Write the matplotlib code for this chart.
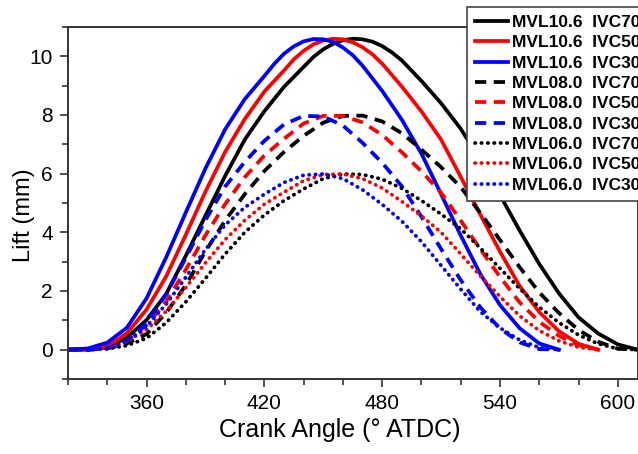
import matplotlib
matplotlib.use("Agg")
import matplotlib.pyplot as plt
from matplotlib.ticker import MultipleLocator

plt.rcParams['font.family'] = ['Liberation Sans', 'DejaVu Sans']

# crank angle grids (deg ATDC); finer steps around the peak of the full-lift curves
angle_ivc30 = list(range(320, 571, 10))
angle_ivc50 = list(range(320, 591, 10))
angle_ivc70 = list(range(320, 611, 10))
angle_106_ivc30 = ([320, 330, 340, 350, 360, 370, 380, 390, 400, 410, 420, 425, 430, 435, 440,
                    445, 450, 455, 460, 465, 470, 480, 490, 500, 510, 520, 530, 540, 550, 560, 570])
angle_106_ivc50 = ([320, 330, 340, 350, 360, 370, 380, 390, 400, 410, 420, 430, 435, 440, 445,
                    450, 455, 460, 465, 470, 475, 480, 490, 500, 510, 520, 530, 540, 550, 560,
                    570, 580, 590])
angle_106_ivc70 = ([320, 330, 340, 350, 360, 370, 380, 390, 400, 410, 420, 430, 440, 445, 450,
                    455, 460, 465, 470, 475, 480, 485, 490, 500, 510, 520, 530, 540, 550, 560,
                    570, 580, 590, 600, 610])

# lift (mm)
mvl106_ivc70 = [0, 0, 0.08, 0.41, 1.01, 1.90, 3.20, 4.57, 5.92, 7.16, 8.13, 8.96, 9.64, 9.98,
                10.24, 10.43, 10.55, 10.60, 10.58, 10.50, 10.35, 10.13, 9.86, 9.16, 8.40,
                7.53, 6.46, 5.27, 4.06, 2.92, 1.92, 1.10, 0.55, 0.18, 0]
mvl106_ivc50 = [0, 0.02, 0.11, 0.56, 1.37, 2.50, 3.92, 5.39, 6.74, 7.86, 8.80, 9.52, 9.90,
                10.19, 10.41, 10.54, 10.60, 10.58, 10.48, 10.31, 10.07, 9.75, 8.97, 8.12,
                7.16, 5.89, 4.60, 3.34, 2.17, 1.28, 0.63, 0.20, 0]
mvl106_ivc30 = [0, 0.04, 0.24, 0.75, 1.75, 3.15, 4.68, 6.18, 7.51, 8.54, 9.33, 9.74, 10.09,
                10.34, 10.51, 10.59, 10.58, 10.49, 10.30, 10.04, 9.68, 8.82, 7.84, 6.68,
                5.30, 3.89, 2.57, 1.52, 0.73, 0.21, 0]
mvl080_ivc70 = [0, 0, 0.04, 0.21, 0.53, 1.26, 2.20, 3.35, 4.40, 5.30, 6.09, 6.74, 7.29,
                7.74, 7.97, 7.98, 7.78, 7.38, 6.82, 6.22, 5.54, 4.66, 3.74, 2.81,
                1.95, 1.25, 0.67, 0.27, 0.03, 0]
mvl080_ivc50 = [0, 0, 0.06, 0.31, 0.83, 1.64, 2.73, 3.90, 4.96, 5.88, 6.62, 7.19, 7.71,
                7.97, 7.97, 7.75, 7.32, 6.73, 6.08, 5.35, 4.40, 3.42, 2.48, 1.61,
                0.95, 0.47, 0.15, 0]
mvl080_ivc30 = [0, 0, 0.05, 0.31, 0.91, 1.89, 3.13, 4.42, 5.56, 6.40, 7.12, 7.68, 7.97,
                7.95, 7.64, 7.05, 6.37, 5.57, 4.53, 3.43, 2.37, 1.44, 0.72, 0.25,
                0.02, 0]
mvl060_ivc70 = [0, 0, 0.03, 0.14, 0.39, 0.92, 1.63, 2.43, 3.26, 4.00, 4.59, 5.08, 5.48,
                5.83, 5.99, 5.97, 5.81, 5.50, 5.08, 4.62, 4.12, 3.46, 2.77, 2.08,
                1.45, 0.92, 0.50, 0.20, 0.03, 0]
mvl060_ivc50 = [0, 0, 0.05, 0.27, 0.69, 1.31, 2.12, 2.96, 3.75, 4.41, 4.96, 5.37, 5.76,
                5.97, 5.99, 5.83, 5.51, 5.05, 4.56, 4.00, 3.26, 2.51, 1.81, 1.15,
                0.65, 0.30, 0.08, 0]
mvl060_ivc30 = [0, 0, 0.05, 0.29, 0.80, 1.55, 2.47, 3.42, 4.25, 4.85, 5.30, 5.70, 5.95,
                5.99, 5.83, 5.45, 4.95, 4.38, 3.68, 2.87, 2.06, 1.29, 0.74, 0.33,
                0.07, 0]

labels = ['MVL10.6  IVC70', 'MVL10.6  IVC50', 'MVL10.6  IVC30',
          'MVL08.0  IVC70', 'MVL08.0  IVC50', 'MVL08.0  IVC30',
          'MVL06.0  IVC70', 'MVL06.0  IVC50', 'MVL06.0  IVC30']

dash = (0, (3, 2))
dot = (0, (0.1, 1.6))
series = [
    (angle_106_ivc70, mvl106_ivc70, 'black', '-'),
    (angle_106_ivc50, mvl106_ivc50, 'red', '-'),
    (angle_106_ivc30, mvl106_ivc30, 'blue', '-'),
    (angle_ivc70, mvl080_ivc70, 'black', dash),
    (angle_ivc50, mvl080_ivc50, 'red', dash),
    (angle_ivc30, mvl080_ivc30, 'blue', dash),
    (angle_ivc70, mvl060_ivc70, 'black', dot),
    (angle_ivc50, mvl060_ivc50, 'red', dot),
    (angle_ivc30, mvl060_ivc30, 'blue', dot),
]

fig = plt.figure(figsize=(6.38, 4.54), dpi=100)
ax = fig.add_axes([68 / 638, 75 / 454, 569.5 / 638, 352 / 454])

for (x, y, c, ls), lab in zip(series, labels):
    line, = ax.plot(x, y, color=c, linestyle=ls, linewidth=2.7, label=lab)
    if ls == dot:
        line.set_dash_capstyle('round')

ax.set_xlim(320, 610)
ax.set_ylim(-1, 11)
ax.set_xticks([360, 420, 480, 540, 600])
ax.xaxis.set_minor_locator(MultipleLocator(20))
ax.yaxis.set_major_locator(MultipleLocator(2))
ax.yaxis.set_minor_locator(MultipleLocator(1))

for s in ax.spines.values():
    s.set_color('#333333')
    s.set_linewidth(1.4)
ax.tick_params(which='major', direction='out', length=6, width=1.2, color='#333333',
               labelsize=15, pad=5)
ax.tick_params(which='minor', direction='out', length=4, width=1.2, color='#333333')

ax.set_xlabel('Crank Angle (° ATDC)', fontsize=18)
ax.set_ylabel('Lift (mm)', fontsize=17)
ax.xaxis.set_label_coords((340 - 68) / 569.5, -0.112)
ax.yaxis.set_label_coords(-0.058, 0.466)

leg = ax.legend(loc='upper left', bbox_to_anchor=(467 / 638, 1 - 7 / 454),
                bbox_transform=fig.transFigure, prop={'weight': 'bold', 'size': 12.5},
                frameon=True, fancybox=False, framealpha=1, edgecolor='#444444',
                handlelength=1.9, handletextpad=0.25, labelspacing=0.3,
                borderpad=0.45, borderaxespad=0)
leg.get_frame().set_linewidth(1.2)

fig.savefig('out.png', dpi=100)
